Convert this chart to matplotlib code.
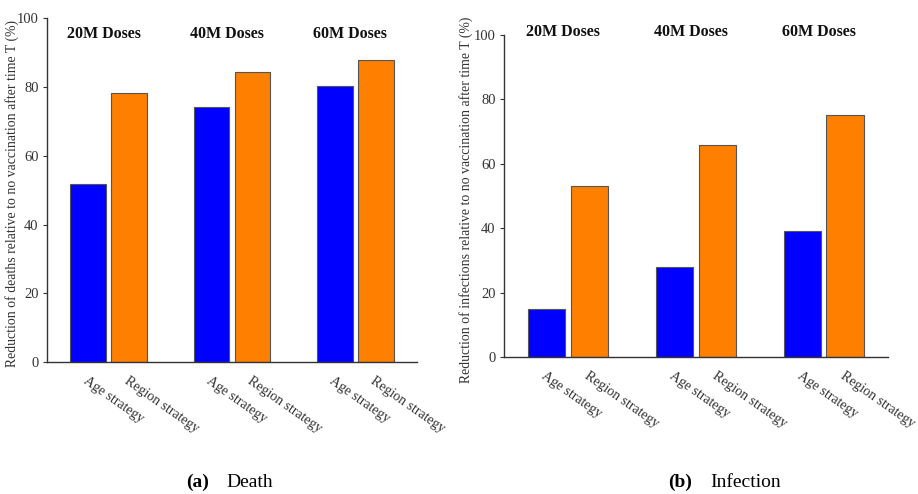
import numpy as np
import matplotlib
matplotlib.use("Agg")
import matplotlib.pyplot as plt

plt.rcParams['font.family'] = ['Liberation Serif', 'DejaVu Serif']

doses = ['20M Doses', '40M Doses', '60M Doses']
strategies = ['Age strategy', 'Region strategy']
death_age = [51.7, 74.1, 80.2]
death_region = [78.3, 84.5, 88.0]
inf_age = [15.1, 28.1, 39.2]
inf_region = [53.1, 65.9, 75.2]
ylab_death = 'Reduction of deaths relative to no vaccination after time T (%)'
ylab_inf = 'Reduction of infections relative to no vaccination after time T (%)'

fig = plt.figure(figsize=(9.18, 4.94), dpi=100)
ax1 = fig.add_axes([0.0512, 0.267, 0.403, 0.696])
ax2 = fig.add_axes([0.549, 0.2767, 0.418, 0.6524])

x = np.arange(len(doses))
w = 0.29
off = 0.166


def draw(ax, age, region, ylab, lab_y, lab_x):
    ax.bar(x - off, age, w, color='#0000FF', edgecolor='#555555', linewidth=0.8)
    ax.bar(x + off, region, w, color='#FF7F00', edgecolor='#555555', linewidth=0.8)
    ax.set_xlim(-0.5, 2.5)
    ax.set_ylim(0, 100)
    ax.set_yticks([0, 20, 40, 60, 80, 100])
    ax.tick_params(axis='y', direction='out', length=3, width=0.8, labelsize=10.5,
                   colors='#333333', pad=3)
    pos = np.ravel(np.column_stack([x - off, x + off]))
    ax.set_xticks(pos)
    ax.set_xticklabels(strategies * len(doses), rotation=-35, ha='left',
                       rotation_mode='anchor', fontsize=10, color='#333333')
    ax.tick_params(axis='x', length=0, pad=9)
    for s in ['top', 'right']:
        ax.spines[s].set_visible(False)
    for s in ['left', 'bottom']:
        ax.spines[s].set_color('#333333')
        ax.spines[s].set_linewidth(1.0)
    ax.set_ylabel(ylab, fontsize=9.9, color='#333333')
    ax.yaxis.set_label_coords(lab_x, 0.49)
    for i, d in enumerate(doses):
        ax.text(x[i] - 0.04, lab_y, d, ha='center', va='center', fontsize=11.5,
                fontweight='bold', color='#111111', clip_on=False)


draw(ax1, death_age, death_region, ylab_death, 95.5, -0.077)
draw(ax2, inf_age, inf_region, ylab_inf, 101.0, -0.082)

fig.text(186 / 918, 1 - 487 / 494, '(a)', fontsize=14, fontweight='bold', ha='left', va='baseline')
fig.text(226 / 918, 1 - 487 / 494, 'Death', fontsize=14, ha='left', va='baseline')
fig.text(668 / 918, 1 - 487 / 494, '(b)', fontsize=14, fontweight='bold', ha='left', va='baseline')
fig.text(710 / 918, 1 - 487 / 494, 'Infection', fontsize=14, ha='left', va='baseline')

fig.savefig('out.png', dpi=100)
